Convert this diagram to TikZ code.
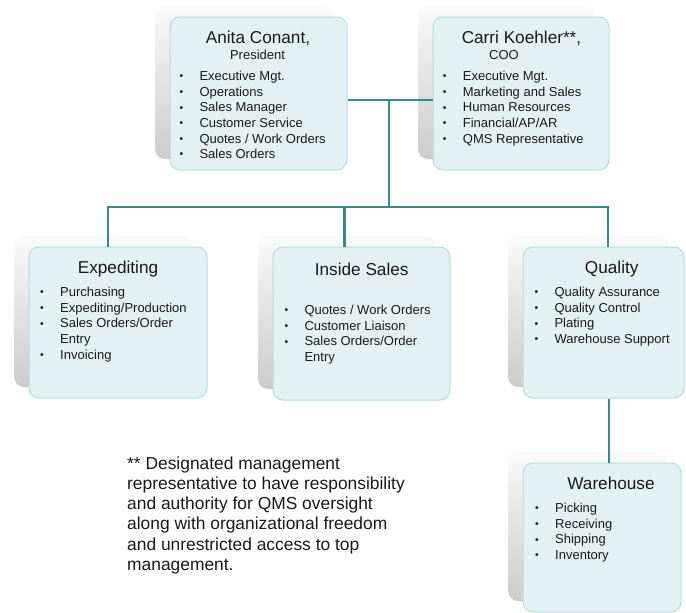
\documentclass[tikz,border=0pt]{standalone}
\usepackage{fontspec}
\setmainfont{Liberation Sans}
\usetikzlibrary{shadows}
\definecolor{linkteal}{RGB}{52,138,143}
\definecolor{boxfill}{RGB}{227,241,242}
\definecolor{boxedge}{RGB}{183,220,222}
\definecolor{inkgray}{RGB}{26,26,26}
\newcommand{\bul}{\raisebox{0.8pt}{\scalebox{0.8}{\textbullet}}}
\newcommand{\blist}[1]{\begin{tabular}[t]{@{}p{20pt}@{}l@{}}#1\end{tabular}}

\begin{document}
\begin{tikzpicture}
[x=1pt,y=1pt]
\tikzset{box/.style={draw=boxedge,fill=boxfill,rounded corners=10pt,line width=1pt,
	general shadow={shadow xshift=-15pt,shadow yshift=11pt,top color=gray!4,bottom color=gray!40,draw=none}}}
\tikzset{title/.style={font=\fontsize{17.2}{20}\selectfont,text=inkgray,anchor=base,inner sep=0}}
\tikzset{sub/.style={font=\fontsize{13}{15.6}\selectfont,text=inkgray,anchor=base,inner sep=0}}
\tikzset{list/.style={font=\fontsize{13}{15.6}\selectfont,text=inkgray,anchor=base west,inner sep=0}}
\tikzset{link/.style={draw=linkteal,line width=2.2pt}}
\useasboundingbox [fill=white] (0,0) rectangle (686,-613);

\node [box,minimum width=177,minimum height=153] (anita) at (258.5,-93.5) {};
\node [box,minimum width=176,minimum height=153] (carri) at (521,-93.5) {};
\node [box,minimum width=178,minimum height=151] (exped) at (118,-322.5) {};
\node [box,minimum width=177,minimum height=153] (inside) at (361.5,-323.5) {};
\node [box,minimum width=161,minimum height=151] (quality) at (603.5,-322.5) {};
\node [box,minimum width=158,minimum height=149] (warehouse) at (602,-537.5) {};

\node [title] (anitaname) at (258,-43) {Anita Conant,};
\node [sub] (anitarole) at (257.5,-59) {President};
\node [title] (carriname) at (521.5,-43) {Carri Koehler**,};
\node [sub] (carrirole) at (504,-59.5) {COO};
\node [title] (expedname) at (118,-273) {Expediting};
\node [title] (insidename) at (361.7,-275) {Inside Sales};
\node [title] (qualityname) at (611.7,-273) {Quality};
\node [title] (warehousename) at (611,-489) {Warehouse};

\node [list] (anitalist) at (179.3,-80.7) {\blist{\bul & Executive Mgt.\\ \bul & Operations\\ \bul & Sales Manager\\ \bul & Customer Service\\ \bul & Quotes / Work Orders\\ \bul & Sales Orders}};
\node [list] (carrilist) at (442.7,-80.7) {\blist{\bul & Executive Mgt.\\ \bul & Marketing and Sales\\ \bul & Human Resources\\ \bul & Financial/AP/AR\\ \bul & QMS Representative}};
\node [list] (expedlist) at (40,-296.7) {\blist{\bul & Purchasing\\ \bul & Expediting/Production\\ \bul & Sales Orders/Order\\ & Entry\\ \bul & Invoicing}};
\node [list] (insidelist) at (284.3,-314.7) {\blist{\bul & Quotes / Work Orders\\ \bul & Customer Liaison\\ \bul & Sales Orders/Order\\ & Entry}};
\node [list] (qualitylist) at (534.3,-296.7) {\blist{\bul & Quality Assurance\\ \bul & Quality Control\\ \bul & Plating\\ \bul & Warehouse Support}};
\node [list] (warehouselist) at (535,-512.7) {\blist{\bul & Picking\\ \bul & Receiving\\ \bul & Shipping\\ \bul & Inventory}};

\node [list,font=\fontsize{17.4}{20.3}\selectfont] (note) at (127,-469) {\begin{tabular}[t]{@{}l@{}}** Designated management\\ representative to have responsibility\\ and authority for QMS oversight\\ along with organizational freedom\\ and unrestricted access to top\\ management.\end{tabular}};

\coordinate (top) at (389,-100);
\coordinate (bus) at (389,-207);
\draw [link] (top -| anita.east) -- (top -| carri.west);
\draw [link] (top) -- (bus);
\foreach \to/\dx in {exped/-10,inside/-17,quality/4.5}
	\draw [link] (bus) -| ([xshift=\dx]\to.north);
\draw [link] ([xshift=5.5]quality.south) -- ([xshift=7]warehouse.north);
\end{tikzpicture}
\end{document}
